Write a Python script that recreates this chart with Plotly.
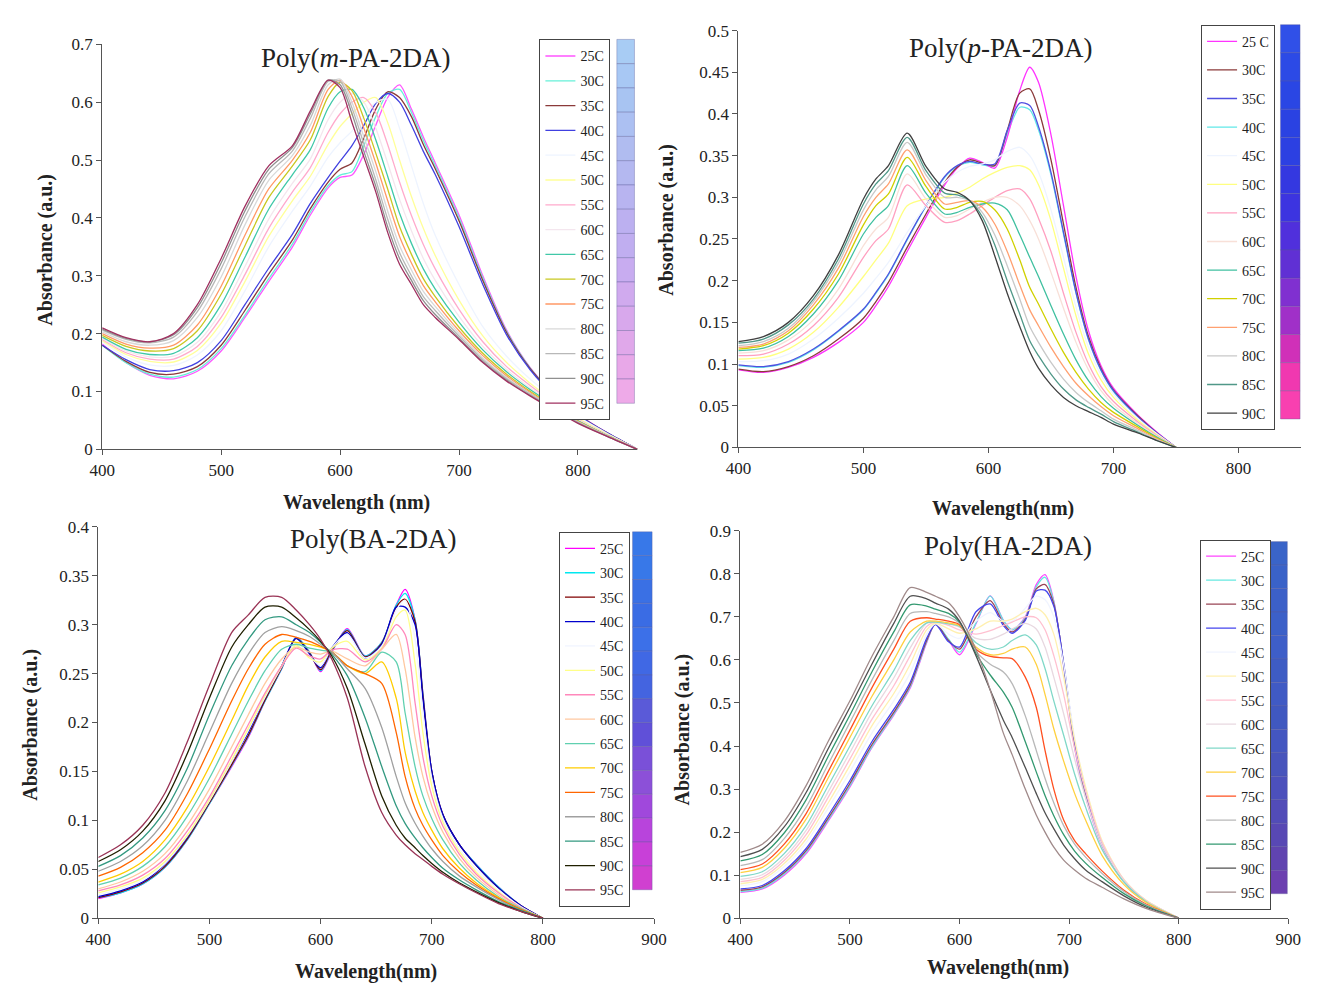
import plotly.graph_objects as go

W, H = 1317, 990
SERIF = "Liberation Serif, Times New Roman, serif"

# ---------------- data ----------------
TEMPS = ["25C", "30C", "35C", "40C", "45C", "50C", "55C", "60C",
         "65C", "70C", "75C", "80C", "85C", "90C", "95C"]
TEMPS_PPA = ["25 C", "30C", "35C", "40C", "45C", "50C", "55C", "60C",
             "65C", "70C", "75C", "80C", "85C", "90C"]

# Poly(m-PA-2DA)
WL_MPA = [400, 420, 440, 460, 480, 500, 520, 540, 560, 575, 590, 600, 610, 620,
          630, 640, 650, 660, 670, 680, 700, 720, 740, 760, 780, 800, 825, 850]
ABS_MPA = [
    [.182, .150, .128, .122, .135, .170, .228, .290, .350, .405, .452, .470, .474, .510, .560, .608, .630, .588, .540, .495, .405, .300, .206, .141, .096, .061, .028, 0],
    [.180, .150, .130, .125, .138, .174, .232, .295, .355, .410, .456, .474, .480, .525, .575, .615, .622, .582, .534, .490, .400, .296, .204, .140, .095, .060, .028, 0],
    [.180, .152, .133, .130, .143, .180, .240, .303, .362, .416, .462, .484, .495, .538, .588, .618, .608, .575, .527, .485, .395, .292, .202, .139, .094, .060, .028, 0],
    [.180, .155, .138, .136, .150, .188, .250, .313, .372, .425, .470, .498, .525, .560, .598, .615, .600, .560, .515, .475, .385, .285, .198, .137, .093, .059, .028, 0],
    [.186, .160, .146, .145, .163, .205, .274, .350, .412, .455, .505, .530, .550, .575, .600, .605, .555, .490, .425, .370, .285, .212, .161, .121, .088, .057, .027, 0],
    [.188, .164, .152, .151, .171, .218, .290, .368, .430, .472, .527, .558, .580, .600, .608, .565, .500, .437, .382, .335, .258, .196, .150, .114, .083, .054, .026, 0],
    [.190, .167, .156, .156, .178, .228, .302, .382, .445, .487, .548, .580, .600, .608, .582, .527, .462, .404, .354, .312, .242, .186, .143, .110, .080, .052, .025, 0],
    [.192, .170, .160, .161, .185, .238, .316, .398, .460, .502, .570, .600, .615, .600, .555, .495, .432, .378, .330, .292, .230, .178, .138, .106, .078, .051, .025, 0],
    [.194, .173, .164, .166, .193, .250, .332, .415, .475, .518, .590, .618, .622, .590, .535, .472, .408, .356, .312, .277, .220, .172, .134, .103, .076, .050, .024, 0],
    [.197, .178, .170, .174, .205, .268, .352, .435, .490, .535, .610, .634, .620, .572, .512, .450, .385, .337, .295, .264, .211, .166, .130, .100, .074, .049, .024, 0],
    [.200, .182, .175, .180, .215, .282, .370, .450, .500, .548, .622, .638, .610, .555, .495, .430, .368, .322, .283, .255, .205, .162, .127, .098, .072, .048, .023, 0],
    [.203, .186, .180, .188, .228, .298, .388, .465, .508, .560, .630, .640, .600, .540, .480, .412, .352, .310, .273, .247, .200, .158, .124, .096, .071, .047, .023, 0],
    [.206, .190, .184, .194, .238, .312, .402, .476, .516, .572, .636, .636, .590, .528, .466, .398, .340, .300, .264, .240, .196, .155, .122, .095, .070, .047, .023, 0],
    [.208, .192, .186, .198, .245, .322, .412, .484, .522, .580, .638, .630, .580, .515, .455, .385, .330, .292, .257, .233, .192, .152, .120, .093, .069, .046, .022, 0],
    [.210, .193, .186, .200, .250, .330, .420, .490, .525, .585, .638, .625, .565, .505, .445, .375, .320, .285, .250, .228, .190, .150, .118, .092, .068, .045, .022, 0],
]

# Poly(p-PA-2DA)
WL_PPA = [400, 420, 440, 460, 480, 500, 510, 520, 535, 550, 565, 575, 585, 595,
          605, 615, 625, 633, 640, 650, 660, 670, 680, 690, 700, 720, 735, 750]
ABS_PPA = [
    [.093, .090, .096, .108, .126, .150, .170, .193, .235, .276, .315, .335, .347, .342, .335, .372, .428, .456, .438, .375, .290, .205, .140, .098, .071, .038, .018, 0],
    [.094, .091, .097, .110, .130, .155, .175, .198, .240, .280, .318, .336, .345, .341, .338, .380, .425, .430, .405, .345, .268, .192, .133, .095, .069, .037, .017, 0],
    [.099, .097, .103, .118, .140, .166, .186, .208, .250, .290, .325, .338, .343, .340, .340, .380, .413, .410, .385, .330, .258, .186, .130, .093, .068, .036, .017, 0],
    [.098, .096, .102, .117, .139, .165, .185, .207, .249, .289, .324, .337, .342, .339, .338, .376, .408, .405, .381, .327, .256, .185, .129, .092, .067, .036, .017, 0],
    [.103, .104, .112, .130, .155, .185, .203, .222, .258, .290, .318, .330, .337, .340, .345, .355, .360, .350, .330, .285, .228, .168, .120, .087, .064, .034, .016, 0],
    [.106, .108, .118, .138, .168, .205, .225, .245, .290, .298, .300, .305, .312, .322, .330, .336, .338, .333, .315, .272, .215, .158, .112, .081, .060, .032, .015, 0],
    [.110, .112, .124, .146, .180, .228, .248, .262, .315, .290, .270, .272, .280, .290, .300, .308, .310, .298, .275, .235, .185, .138, .100, .073, .055, .030, .014, 0],
    [.113, .116, .129, .153, .190, .242, .262, .276, .328, .298, .276, .278, .286, .294, .300, .300, .290, .272, .250, .210, .167, .126, .093, .068, .051, .028, .013, 0],
    [.116, .119, .133, .160, .200, .256, .276, .290, .338, .305, .280, .282, .288, .292, .293, .285, .255, .228, .205, .170, .136, .105, .080, .061, .047, .026, .012, 0],
    [.118, .122, .137, .166, .208, .267, .290, .304, .348, .313, .286, .288, .294, .295, .285, .262, .225, .192, .172, .142, .114, .090, .070, .054, .042, .024, .011, 0],
    [.120, .124, .140, .171, .215, .277, .300, .316, .357, .320, .292, .294, .296, .288, .268, .235, .195, .165, .146, .120, .097, .077, .062, .049, .038, .022, .010, 0],
    [.122, .127, .143, .175, .221, .285, .309, .325, .366, .327, .300, .300, .296, .282, .255, .218, .178, .145, .126, .102, .082, .066, .054, .044, .034, .020, .009, 0],
    [.125, .130, .147, .178, .226, .292, .316, .332, .372, .332, .305, .303, .296, .277, .243, .200, .160, .128, .110, .088, .070, .057, .048, .040, .031, .018, .008, 0],
    [.127, .133, .150, .182, .231, .298, .322, .338, .377, .337, .310, .306, .296, .272, .230, .185, .145, .115, .095, .075, .060, .050, .043, .036, .028, .017, .008, 0],
]

# Poly(BA-2DA)
WL_BA = [400, 420, 440, 460, 480, 500, 520, 535, 550, 565, 578, 590, 600, 610,
         624, 640, 655, 668, 676, 685, 692, 700, 710, 725, 740, 760, 780, 800]
ABS_BA = [
    [.020, .026, .035, .052, .080, .117, .155, .185, .222, .255, .287, .272, .252, .272, .296, .268, .282, .320, .336, .305, .230, .150, .105, .075, .055, .032, .013, 0],
    [.021, .026, .035, .052, .080, .117, .156, .186, .222, .255, .287, .272, .253, .273, .295, .268, .282, .320, .332, .305, .230, .150, .105, .075, .055, .032, .013, 0],
    [.021, .027, .036, .053, .081, .118, .157, .187, .223, .256, .286, .271, .254, .274, .294, .267, .281, .318, .326, .303, .228, .150, .106, .075, .054, .031, .013, 0],
    [.022, .028, .037, .055, .083, .120, .160, .190, .226, .258, .286, .270, .256, .276, .292, .266, .280, .318, .318, .300, .225, .150, .106, .075, .054, .031, .013, 0],
    [.024, .030, .039, .056, .084, .120, .160, .192, .226, .257, .282, .268, .258, .276, .290, .266, .278, .315, .325, .285, .210, .143, .102, .071, .050, .029, .012, 0],
    [.026, .032, .041, .058, .085, .121, .162, .194, .228, .258, .279, .266, .262, .276, .283, .264, .276, .308, .315, .260, .190, .135, .098, .068, .047, .027, .011, 0],
    [.028, .034, .044, .061, .089, .124, .166, .198, .230, .258, .276, .268, .265, .274, .275, .262, .275, .300, .290, .220, .165, .125, .094, .065, .045, .026, .011, 0],
    [.030, .037, .048, .066, .095, .132, .175, .208, .240, .265, .277, .272, .270, .273, .265, .258, .275, .290, .255, .185, .145, .115, .088, .061, .042, .024, .010, 0],
    [.034, .041, .053, .073, .104, .143, .188, .222, .253, .275, .280, .276, .274, .272, .258, .252, .272, .262, .210, .155, .125, .102, .080, .056, .039, .022, .010, 0],
    [.037, .045, .058, .080, .113, .155, .202, .238, .267, .283, .282, .280, .277, .272, .258, .250, .262, .225, .170, .130, .108, .090, .071, .051, .036, .021, .009, 0],
    [.043, .052, .067, .090, .127, .173, .222, .255, .280, .290, .287, .283, .278, .272, .258, .250, .240, .190, .145, .112, .095, .080, .064, .047, .034, .020, .009, 0],
    [.048, .058, .074, .100, .140, .190, .240, .270, .292, .298, .294, .288, .280, .272, .255, .235, .195, .145, .118, .097, .084, .071, .058, .043, .032, .019, .008, 0],
    [.053, .064, .082, .110, .153, .208, .258, .285, .305, .308, .300, .292, .282, .270, .248, .205, .155, .115, .097, .082, .072, .062, .051, .039, .029, .017, .008, 0],
    [.058, .070, .089, .120, .168, .225, .277, .300, .318, .318, .307, .295, .283, .268, .235, .178, .125, .095, .082, .072, .064, .056, .047, .036, .027, .016, .007, 0],
    [.062, .075, .095, .128, .180, .238, .292, .310, .328, .328, .315, .300, .285, .265, .225, .155, .108, .085, .075, .066, .060, .053, .045, .035, .026, .015, .007, 0],
]

# Poly(HA-2DA)
WL_HA = [400, 420, 440, 460, 480, 500, 520, 540, 555, 570, 578, 590, 600, 615,
         628, 640, 648, 660, 670, 678, 686, 695, 705, 715, 730, 750, 770, 800]
ABS_HA = [
    [.060, .068, .100, .150, .225, .305, .396, .472, .535, .640, .684, .646, .612, .684, .749, .692, .670, .700, .775, .798, .737, .586, .396, .282, .168, .085, .039, 0],
    [.062, .070, .103, .153, .228, .308, .398, .474, .538, .642, .684, .648, .618, .686, .748, .692, .670, .698, .770, .792, .735, .588, .400, .286, .170, .086, .040, 0],
    [.065, .073, .106, .157, .232, .313, .403, .478, .542, .645, .684, .645, .625, .700, .738, .685, .665, .695, .765, .775, .730, .590, .405, .290, .172, .087, .040, 0],
    [.068, .076, .110, .162, .238, .320, .410, .485, .548, .650, .682, .642, .630, .712, .730, .680, .662, .692, .760, .762, .725, .592, .410, .295, .175, .088, .041, 0],
    [.075, .085, .120, .175, .255, .340, .430, .505, .570, .660, .684, .660, .650, .690, .710, .690, .690, .720, .748, .740, .700, .590, .420, .305, .180, .090, .042, 0],
    [.080, .090, .127, .184, .267, .355, .447, .522, .590, .670, .685, .672, .662, .672, .690, .690, .695, .712, .720, .705, .660, .560, .415, .305, .180, .090, .042, 0],
    [.085, .095, .134, .194, .280, .370, .462, .540, .610, .678, .688, .680, .670, .660, .668, .680, .688, .700, .698, .670, .610, .520, .395, .295, .176, .089, .041, 0],
    [.090, .101, .141, .204, .293, .385, .478, .558, .628, .685, .690, .684, .676, .650, .648, .660, .672, .685, .672, .630, .560, .475, .370, .280, .170, .087, .040, 0],
    [.097, .108, .150, .215, .307, .400, .493, .575, .645, .686, .688, .684, .678, .640, .625, .630, .645, .658, .635, .580, .505, .425, .335, .258, .160, .084, .039, 0],
    [.106, .118, .162, .230, .325, .420, .515, .600, .665, .690, .690, .686, .680, .630, .612, .615, .625, .630, .590, .520, .440, .365, .290, .228, .146, .078, .037, 0],
    [.113, .126, .172, .243, .340, .437, .535, .625, .690, .698, .695, .690, .682, .625, .608, .605, .603, .560, .490, .390, .300, .228, .180, .150, .110, .065, .033, 0],
    [.122, .136, .185, .258, .357, .455, .553, .645, .708, .712, .708, .700, .685, .620, .590, .572, .545, .470, .390, .325, .268, .215, .172, .142, .104, .062, .031, 0],
    [.133, .148, .198, .275, .375, .472, .572, .665, .728, .725, .718, .708, .688, .615, .565, .525, .490, .410, .340, .285, .238, .194, .156, .128, .095, .057, .029, 0],
    [.143, .160, .212, .292, .393, .490, .590, .685, .748, .742, .732, .718, .690, .610, .530, .460, .420, .350, .290, .245, .208, .170, .138, .112, .085, .052, .026, 0],
    [.153, .172, .225, .308, .410, .505, .608, .700, .768, .757, .748, .733, .700, .624, .530, .430, .380, .300, .240, .200, .165, .135, .112, .093, .072, .045, .023, 0],
]

# line colours per temperature (legend order)
COLORS_MPA = ["#ff55ff", "#66f0d8", "#8b3a3a", "#4040e0", "#eef4ff", "#ffff99", "#ffaacc", "#f4e6ee",
              "#40c8a8", "#c8c820", "#ff9966", "#d8d8d8", "#b8b8b8", "#909090", "#a03060"]
COLORS_PPA = ["#ff33ff", "#8b3a3a", "#5050e0", "#60e8e8", "#eef4ff", "#ffff80", "#ffa0c0", "#f8e0d8",
              "#40c0a0", "#d0d000", "#ffa070", "#c8c8c8", "#509888", "#404040"]
COLORS_BA = ["#ff00ff", "#00e8f0", "#800000", "#0000cc", "#f0f4ff", "#ffff88", "#ff88bb", "#ffc8a0",
             "#60d0b0", "#ffcc00", "#ff6600", "#a0a0a0", "#339980", "#202000", "#993355"]
COLORS_HA = ["#ff44ff", "#66e8e0", "#994455", "#4444ee", "#f0f4ff", "#fff0b0", "#ffc0d0", "#e8d8e0",
             "#80d8c8", "#ffd040", "#ff5020", "#b8b8b8", "#339970", "#505050", "#a08a8a"]

# sample colour swatches beside each legend
STRIP_MPA = ["#a8ccf4", "#a8c8f4", "#a8c4f2", "#acc0f2", "#b0bcf0", "#b4b8f0", "#b8b4f0", "#bcb0f0",
             "#c0aef0", "#c8acf0", "#d0aaee", "#d8a8ec", "#e0a8ea", "#e8a8e8", "#eeaae8"]
STRIP_PPA = ["#3050e8", "#2c4ae6", "#2a46e4", "#2a42e2", "#2c40e2", "#3438e0", "#3c34e0", "#5030dc",
             "#6030d4", "#8030d0", "#a030c8", "#d030b8", "#f038b0", "#f840b0"]
STRIP_BA = ["#3878e8", "#3878e8", "#3a70e4", "#3a6ce4", "#3c70e8", "#4068e4", "#4464e0", "#5a5ad8",
            "#6050d8", "#7a50d8", "#8c50d8", "#a048dc", "#b844dc", "#c840d8", "#d040d0"]
STRIP_HA = ["#3a64c8", "#3a62c8", "#3c60c8", "#3c60c8", "#3e5ec8", "#3e5cc4", "#405ac4", "#4058c0",
            "#4456c0", "#4854bc", "#4c50bc", "#524cb8", "#5848b4", "#6044b0", "#6c40b0"]

# ---------------- layout of the four panels (pixel geometry) ----------------
PANELS = [
    dict(s="", wl=WL_MPA, ab=ABS_MPA, names=TEMPS, colors=COLORS_MPA, strip=STRIP_MPA, under=[],
         xpx=(91, 637), ypx=(449, 36), xr=[400, 850], yr=[0, 0.7], dy=0.1,
         title="Poly(<i>m</i>-PA-2DA)", tpos=(350, 50), xt="Wavelength (nm)", xtpos=(350, 503),
         ytpos=(33, 245), leg=(537, 31), pitch=24.8, spx=(616, 634, 31, 402)),
    dict(s="2", wl=WL_PPA, ab=ABS_PPA, names=TEMPS_PPA, colors=COLORS_PPA, strip=STRIP_PPA, under=[3],
         xpx=(740, 1314), ypx=(447, 22), xr=[400, 850], yr=[0, 0.5], dy=0.05,
         title="Poly(<i>p</i>-PA-2DA)", tpos=(1008, 40), xt="Wavelength(nm)", xtpos=(1010, 509),
         ytpos=(667, 215), leg=(1212, 16), pitch=28.6, spx=(1293, 1313, 16, 418)),
    dict(s="3", wl=WL_BA, ab=ABS_BA, names=TEMPS, colors=COLORS_BA, strip=STRIP_BA, under=[],
         xpx=(87, 654), ypx=(927, 528), xr=[400, 900], yr=[0, 0.4], dy=0.05,
         title="Poly(BA-2DA)", tpos=(368, 540), xt="Wavelength(nm)", xtpos=(360, 981),
         ytpos=(18, 730), leg=(557, 533), pitch=24.4, spx=(632, 652, 533, 898)),
    dict(s="4", wl=WL_HA, ab=ABS_HA, names=TEMPS, colors=COLORS_HA, strip=STRIP_HA, under=[],
         xpx=(742, 1301), ypx=(927, 532), xr=[400, 900], yr=[0, 0.9], dy=0.1,
         title="Poly(HA-2DA)", tpos=(1015, 547), xt="Wavelength(nm)", xtpos=(1005, 977),
         ytpos=(683, 735), leg=(1211, 541), pitch=24.0, spx=(1283, 1300, 543, 902)),
]

LEG_FS = 14
ITEM_H = max(LEG_FS * 1.3, 16) + 3

fig = go.Figure()
layout = dict(width=W, height=H, margin=dict(l=0, r=0, t=0, b=0),
              paper_bgcolor="white", plot_bgcolor="white", showlegend=True)
annotations, shapes = [], []

for p in PANELS:
    s = p["s"]
    for row in p["ab"]:
        assert len(row) == len(p["wl"])
    idx = list(range(len(p["names"])))
    order = p["under"] + [i for i in idx if i not in p["under"]]
    for i in order:
        fig.add_trace(go.Scatter(
            x=p["wl"], y=p["ab"][i], name=p["names"][i], mode="lines",
            line=dict(color=p["colors"][i], width=1.3, shape="spline", smoothing=0.8),
            xaxis="x" + s, yaxis="y" + s, legend="legend" + s,
            legendgroup=s + p["names"][i], legendrank=1000 + i, hoverinfo="skip"))

    x0, x1 = p["xpx"]
    yb, yt = p["ypx"]
    axfont = dict(family=SERIF, size=17, color="#222")
    layout["xaxis" + s] = dict(domain=[x0 / W, x1 / W], range=p["xr"], tick0=400, dtick=100,
                               anchor="y" + s, showline=True, linecolor="#555", linewidth=1,
                               ticks="outside", ticklen=5, tickcolor="#555", showgrid=False,
                               zeroline=False, tickfont=axfont, fixedrange=True)
    layout["yaxis" + s] = dict(domain=[1 - yb / H, 1 - yt / H], range=p["yr"], tick0=0, dtick=p["dy"],
                               anchor="x" + s, showline=True, linecolor="#555", linewidth=1,
                               ticks="outside", ticklen=5, tickcolor="#555", showgrid=False,
                               zeroline=False, tickfont=axfont, fixedrange=True)
    lx, ly = p["leg"]
    layout["legend" + s] = dict(x=lx / W, y=1 - ly / H, xanchor="left", yanchor="top",
                                bgcolor="white", bordercolor="#444", borderwidth=1,
                                font=dict(family=SERIF, size=LEG_FS, color="#222"),
                                traceorder="grouped", tracegroupgap=max(p["pitch"] - ITEM_H, 0),
                                itemwidth=30, itemclick=False, itemdoubleclick=False)

    annotations.append(dict(text=p["title"], x=p["tpos"][0] / W, y=1 - p["tpos"][1] / H,
                            xref="paper", yref="paper", showarrow=False, xanchor="center",
                            yanchor="middle", font=dict(family=SERIF, size=27, color="#222")))
    annotations.append(dict(text="<b>" + p["xt"] + "</b>", x=p["xtpos"][0] / W, y=1 - p["xtpos"][1] / H,
                            xref="paper", yref="paper", showarrow=False, xanchor="center",
                            yanchor="middle", font=dict(family=SERIF, size=20, color="#222")))
    annotations.append(dict(text="<b>Absorbance (a.u.)</b>", x=p["ytpos"][0] / W, y=1 - p["ytpos"][1] / H,
                            xref="paper", yref="paper", showarrow=False, xanchor="center",
                            yanchor="middle", textangle=-90,
                            font=dict(family=SERIF, size=20, color="#222")))

    sx0, sx1, sy0, sy1 = p["spx"]
    n = len(p["strip"])
    step = (sy1 - sy0) / n
    for i, c in enumerate(p["strip"]):
        shapes.append(dict(type="rect", xref="paper", yref="paper",
                           x0=sx0 / W, x1=sx1 / W,
                           y0=1 - (sy0 + (i + 1) * step) / H, y1=1 - (sy0 + i * step) / H,
                           fillcolor=c, line=dict(color="rgba(90,90,150,0.35)", width=1),
                           layer="above"))

layout["annotations"] = annotations
layout["shapes"] = shapes
fig.update_layout(**layout)
fig.write_html("out.html")
